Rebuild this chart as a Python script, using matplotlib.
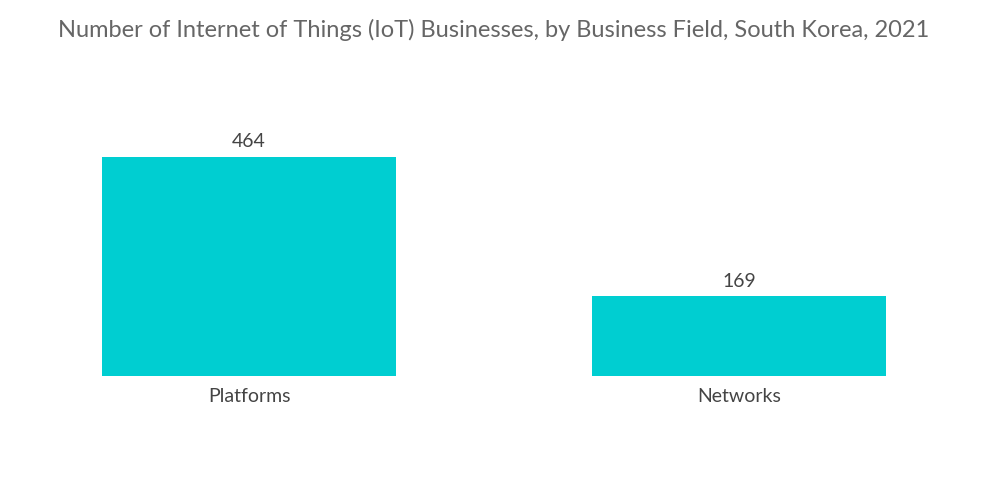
import matplotlib
matplotlib.use("Agg")
import matplotlib.pyplot as plt

# data
categories = ["Platforms", "Networks"]
values = [464, 169]
title = "Number of Internet of Things (IoT) Businesses, by Business Field, South Korea, 2021"

plt.rcParams["font.family"] = ["Lato", "DejaVu Sans"]

fig = plt.figure(figsize=(10, 5.04), dpi=100)
ax = fig.add_axes([0.102, 0.254, 0.784, 0.468])

x = range(len(categories))
bars = ax.bar(x, values, width=0.6, color="#00CED1")
ax.set_xlim(-0.3, 1.3)
ax.set_ylim(0, 500)

for b, v in zip(bars, values):
    ax.text(b.get_x() + b.get_width() / 2, v + 14, str(v),
            ha="center", va="bottom", fontsize=14, color="#444444")

ax.set_xticks(list(x))
ax.set_xticklabels(categories, fontsize=14, color="#444444")
ax.tick_params(axis="x", length=0, pad=9)
ax.set_yticks([])
for s in ax.spines.values():
    s.set_visible(False)

fig.text(0.494, 0.94, title, ha="center", va="center", fontsize=17, color="#666666")

fig.savefig("out.png", dpi=100)
